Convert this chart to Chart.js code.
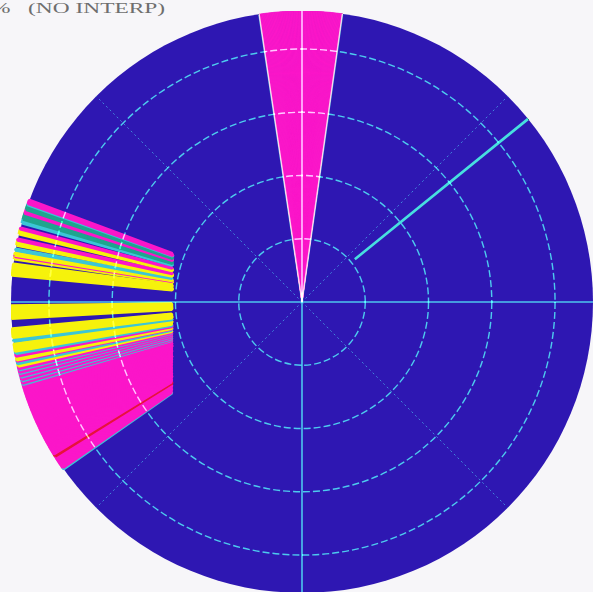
<!DOCTYPE html>
<html>
<head>
<meta charset="utf-8">
<script src="https://cdn.jsdelivr.net/npm/chart.js@4/dist/chart.umd.min.js"></script>
<style>
  html, body { margin: 0; padding: 0; width: 593px; height: 592px; overflow: hidden; background: #f7f6f9; }
  #wrap { position: absolute; left: 11px; top: 11px; width: 582px; height: 582px; }
  .cap { position: absolute; top: 0px; font-family: 'Liberation Serif', 'DejaVu Serif', serif; font-size: 15px;
         color: #6e6e6e; transform: scaleX(1.56); transform-origin: 0 0; white-space: pre; }
</style>
</head>
<body>
<div class="cap" style="left:-9px">%</div>
<div class="cap" style="left:28px">(NO INTERP)</div>
<div id="wrap"><canvas id="ppi" width="582" height="582"></canvas></div>
<script>
// Azimuth bins, 0.25 degree wide, clockwise from north
const BIN = 0.25;
const azimuths = Array.from({ length: 1440 }, (_, i) => i * BIN);

// Range axis and ring spacing (range units)
const rangeMax = 230;
const ringStep = 50;

// Echo sector to the north: [from, to) bearing
const northFrom = 351.5;
const northTo = 8.0;

// Western echo sector: stripe boundaries (deg), south to north, and the class of each stripe
const stripeEdges = [235, 235.25, 238, 238.5, 253.5, 253.75, 254.25, 254.5, 255, 255.25,
                     255.75, 256, 256.5, 256.75, 257.25, 257.75, 258.25, 258.5, 259, 259.25,
                     259.75, 260.25, 261.75, 262.25, 262.5, 263, 264.75, 266.75, 269.25, 275.25,
                     277.5, 278.5, 279, 279.25, 279.75, 280.25, 280.5, 281.25, 282.25, 282.5,
                     283.5, 284.5, 284.75, 285.75, 286.5, 287.75, 288.5, 289.5, 289.75, 290.5];
const stripeClasses = ['cyan', 'magenta', 'red', 'magenta', 'cyan', 'magenta', 'cyan', 'magenta', 'cyan', 'magenta',
                       'cyan', 'magenta', 'cyan', 'magenta', 'yellow', 'cyan', 'magenta', 'yellow', 'none', 'magenta',
                       'cyan', 'yellow', 'none', 'cyan', 'none', 'yellow', 'none', 'yellow', 'none', 'yellow',
                       'none', 'yellow', 'magenta', 'yellow', 'none', 'cyan', 'none', 'yellow', 'magenta', 'none',
                       'yellow', 'magenta', 'none', 'cyan', 'teal', 'magenta', 'teal', 'cyan', 'magenta'];

// Near edge of the western sector (range units), one value per degree from 235 to 290
const gapStart = 235;
const gapRanges = [125.5, 124, 122.5, 121, 120, 118.5, 117.5, 116.5, 115.5, 114.5,
                   113.5, 112.5, 111.5, 111, 110, 109.5, 108.5, 108, 107.5, 107,
                   106.5, 106, 105.5, 105, 104.5, 104.5, 104, 103.5, 103.5, 103.5,
                   103, 103, 103, 103, 103, 103, 103, 103, 103, 103,
                   103, 103.5, 103.5, 103.5, 104, 104.5, 104.5, 105, 105.5, 106,
                   106.5, 107, 107.5, 108, 108.5, 109.5];
const gapEnd = 290.5;

// Spokes drawn on the display
const axisBearings = [0, 90, 180, 270];
const diagonalBearings = [45, 135, 225, 315];
const strobeBearing = 51;

// ---- colours ----
const DISK = '#2e17b2';
const PALETTE = {
  magenta: '#fb16c9', cyan: '#3cc6d6',
  yellow: '#f6f20c', teal: '#1fa58e', red: '#e8123c'
};

function stripeAt(b) {
  for (let k = 0; k < stripeClasses.length; k++) {
    if (b >= stripeEdges[k] && b < stripeEdges[k + 1]) return stripeClasses[k];
  }
  return null;
}
const inNorth = b => b >= northFrom || b < northTo;
const inWest = b => b >= gapStart && b < gapEnd;
const gapAt = b => gapRanges[Math.min(Math.floor(b) - gapStart, gapRanges.length - 1)];

const echoRange = [], echoColor = [], nearRange = [];
azimuths.forEach(b => {
  let cls = inNorth(b) ? 'magenta' : stripeAt(b);
  if (cls === 'none') cls = null;
  echoRange.push(cls ? rangeMax : 0);
  echoColor.push(cls ? PALETTE[cls] : 'rgba(0,0,0,0)');
  nearRange.push(inWest(b) ? gapAt(b) : 0);
});

// Polar area whose slices may start at a near range instead of the centre
const PolarBase = (Chart.controllers && Chart.controllers.polarArea) || Chart.PolarAreaController;
class GatedPolarAreaController extends PolarBase {
  updateElement(element, index, properties, mode) {
    const near = this.getDataset().nearRange;
    if (properties && near && near[index] > 0) {
      properties.innerRadius = this._cachedMeta.rScale.getDistanceFromCenterForValue(near[index]);
    }
    super.updateElement(element, index, properties, mode);
  }
}
GatedPolarAreaController.id = 'gatedPolarArea';
GatedPolarAreaController.defaults = PolarBase.defaults;
GatedPolarAreaController.overrides = PolarBase.overrides;
Chart.register(GatedPolarAreaController);

// Grid lines are added onto whatever lies under them
const additiveGrid = {
  id: 'additiveGrid',
  afterDatasetsDraw(chart) { chart.ctx.save(); chart.ctx.globalCompositeOperation = 'lighter'; },
  afterDraw(chart) { chart.ctx.restore(); }
};

function spoke(ctx) {
  const b = azimuths[ctx.index];
  if (axisBearings.includes(b)) return { c: 'rgb(30,175,60)', w: 1.6, d: [] };
  if (b === northFrom || b === northTo) return { c: 'rgb(20,190,40)', w: 1.6, d: [] };
  // the strobe starts just past the first ring
  if (b === strobeBearing) return { c: 'rgb(25,200,45)', w: 2.6, d: [0, 68, 400, 0] };
  if (diagonalBearings.includes(b)) return { c: 'rgb(18,110,40)', w: 1, d: [2, 3] };
  return { c: 'rgba(0,0,0,0)', w: 0, d: [] };
}

new Chart(document.getElementById('ppi'), {
  type: 'gatedPolarArea',
  data: {
    labels: azimuths,
    datasets: [
      {
        label: 'echo',
        data: echoRange,
        nearRange: nearRange,
        rAxisID: 'r',
        backgroundColor: echoColor,
        borderColor: echoColor,
        // western beams are drawn with a spread of a few pixels
        borderWidth: c => (c.raw > 0 ? (inWest(azimuths[c.dataIndex]) ? 3 : 0.8) : 0)
      }
    ]
  },
  options: {
    responsive: false,
    animation: false,
    events: [],
    layout: { padding: 0 },
    plugins: { legend: { display: false }, tooltip: { enabled: false }, title: { display: false } },
    scales: {
      r: {
        type: 'radialLinear',
        min: 0, max: rangeMax, startAngle: 0, beginAtZero: true,
        ticks: { display: false, stepSize: ringStep },
        grid: {
          z: 1, circular: true, lineWidth: 1.4,
          color: c => (c.tick && c.tick.value < rangeMax ? 'rgb(30,180,60)' : 'rgba(0,0,0,0)')
        },
        border: { dash: [7, 3] },
        angleLines: {
          display: true,
          color: c => spoke(c).c,
          lineWidth: c => spoke(c).w,
          borderDash: c => spoke(c).d
        },
        pointLabels: { display: false }
      },
      rdisk: {
        type: 'radialLinear', axis: 'r', min: 0, max: rangeMax,
        backgroundColor: DISK,
        grid: { display: false, circular: true, z: -1 },
        angleLines: { display: false },
        ticks: { display: false },
        pointLabels: { display: false }
      }
    }
  },
  plugins: [additiveGrid]
});
</script>
</body>
</html>
